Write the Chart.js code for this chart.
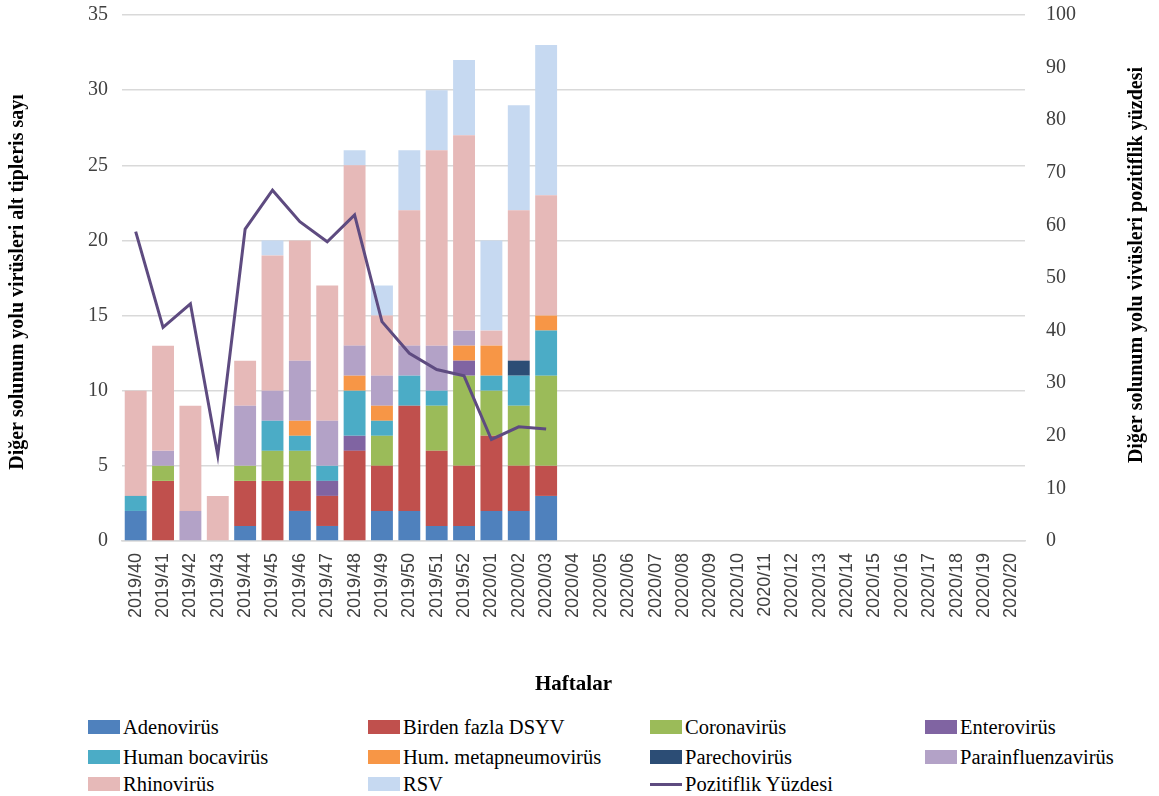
<!DOCTYPE html>
<html>
<head>
<meta charset="utf-8">
<script src="https://cdn.jsdelivr.net/npm/chart.js@4"></script>
<style>
  body { margin: 0; background: #fff; }
  #wrap { position: relative; width: 1159px; height: 796px; }
  #chartBox { position: absolute; left: 0; top: 0; width: 1159px; height: 705px; }
  .lg { position: absolute; font-family: "Liberation Serif", serif; font-size: 20.5px; color: #000; white-space: nowrap; line-height: 24px; }
  .lg .sw { display: inline-block; width: 32px; height: 14px; vertical-align: middle; margin-right: 3px; position: relative; top: -2px; }
  .lg .ln { display: inline-block; width: 32px; height: 3px; vertical-align: middle; margin-right: 3px; position: relative; top: -2px; }
</style>
</head>
<body>
<div id="wrap">
  <div id="chartBox"><canvas id="chart"></canvas></div>
  <div id="legend"></div>
</div>
<script>
const weeks = [
  '2019/40','2019/41','2019/42','2019/43','2019/44','2019/45','2019/46','2019/47','2019/48','2019/49',
  '2019/50','2019/51','2019/52','2020/01','2020/02','2020/03','2020/04','2020/05','2020/06','2020/07',
  '2020/08','2020/09','2020/10','2020/11','2020/12','2020/13','2020/14','2020/15','2020/16','2020/17',
  '2020/18','2020/19','2020/20'
];

// counts per week (only the first 16 weeks have data)
const adenovirus      = [2,0,0,0,1,0,2,1,0,2,2,1,1,2,2,3];
const birdenFazla     = [0,4,0,0,3,4,2,2,6,3,7,5,4,5,3,2];
const coronavirus     = [0,1,0,0,1,2,2,0,0,2,0,3,6,3,4,6];
const enterovirus     = [0,0,0,0,0,0,0,1,1,0,0,0,1,0,0,0];
const humanBocavirus  = [1,0,0,0,0,2,1,1,3,1,2,1,0,1,2,3];
const humMetapneumo   = [0,0,0,0,0,0,1,0,1,1,0,0,1,2,0,1];
const parechovirus    = [0,0,0,0,0,0,0,0,0,0,0,0,0,0,1,0];
const parainfluenza   = [0,1,2,0,4,2,4,3,2,2,2,3,1,0,0,0];
const rhinovirus      = [7,7,7,3,3,9,8,9,12,4,9,13,13,1,10,8];
const rsv             = [0,0,0,0,0,1,0,0,1,2,4,4,5,6,7,10];
const pozitiflik      = [58.8,40.6,45.1,16.3,59.3,66.7,60.7,56.9,62.0,41.7,35.7,32.6,31.4,19.3,21.7,21.3];

const seriesNames = ['Adenovirüs','Birden fazla DSYV','Coronavirüs','Enterovirüs','Human bocavirüs',
  'Hum. metapneumovirüs','Parechovirüs','Parainfluenzavirüs','Rhinovirüs','RSV'];
const seriesData = [adenovirus, birdenFazla, coronavirus, enterovirus, humanBocavirus,
  humMetapneumo, parechovirus, parainfluenza, rhinovirus, rsv];
const seriesColors = ['#4F81BD','#C0504D','#9BBB59','#8064A2','#4BACC6',
  '#F79646','#2C4D75','#B3A2C7','#E6B9B8','#C6D9F1'];
const lineName = 'Pozitiflik Yüzdesi';
const lineColor = '#5E4B80';

const leftTitle = 'Diğer solunum yolu virüsleri alt tipleris sayı';
const rightTitle = 'Diğer solunum yolu vivüsleri pozitiflik yüzdesi';
const xTitle = 'Haftalar';

const datasets = seriesNames.map((name, i) => ({
  type: 'bar',
  label: name,
  data: seriesData[i],
  backgroundColor: seriesColors[i],
  borderWidth: 0,
  barPercentage: 0.8,
  categoryPercentage: 1.0,
  stack: 's',
  yAxisID: 'y',
  order: 1
}));
datasets.push({
  type: 'line',
  label: lineName,
  data: pozitiflik,
  borderColor: lineColor,
  backgroundColor: lineColor,
  borderWidth: 3,
  pointRadius: 0,
  tension: 0,
  fill: false,
  yAxisID: 'y1',
  order: 0
});

// draw the three axis titles
const axisTitles = {
  id: 'axisTitles',
  afterDraw(chart) {
    const ctx = chart.ctx;
    const area = chart.chartArea;
    ctx.save();
    ctx.fillStyle = '#000';
    ctx.textAlign = 'center';
    ctx.textBaseline = 'middle';
    ctx.font = 'bold 20px "Liberation Serif"';
    ctx.save();
    ctx.translate(18, 282);
    ctx.rotate(-Math.PI / 2);
    ctx.fillText(leftTitle, 0, 0);
    ctx.restore();
    ctx.save();
    ctx.translate(1137, 265);
    ctx.rotate(-Math.PI / 2);
    ctx.fillText(rightTitle, 0, 0);
    ctx.restore();
    ctx.font = 'bold 21px "Liberation Serif"';
    ctx.fillText(xTitle, (area.left + area.right) / 2, 685);
    ctx.restore();
  }
};

// keep tick padding from pushing the plot area down
const noVPad = s => { s.paddingTop = 0; s.paddingBottom = 0; };

new Chart(document.getElementById('chart'), {
  data: { labels: weeks, datasets: datasets },
  plugins: [axisTitles],
  options: {
    responsive: true,
    maintainAspectRatio: false,
    animation: false,
    layout: { padding: { top: 15 } },
    plugins: { legend: { display: false }, tooltip: { enabled: false } },
    scales: {
      x: {
        stacked: true,
        grid: { display: false, drawTicks: false },
        border: { display: true, color: '#d9d9d9', width: 1.5 },
        ticks: {
          minRotation: 90, maxRotation: 90, autoSkip: false, padding: 12,
          color: '#404040',
          font: { family: 'Liberation Sans', size: 18 }
        },
        afterFit: s => { s.height = 705 - 541; }
      },
      y: {
        stacked: true,
        position: 'left',
        min: 0, max: 35,
        grid: { color: '#d9d9d9', lineWidth: 1.5, drawTicks: false },
        border: { display: false },
        ticks: {
          stepSize: 5, padding: 14, color: '#404040',
          font: { family: 'Liberation Serif', size: 20 }
        },
        afterFit: s => { s.width = 122; noVPad(s); }
      },
      y1: {
        position: 'right',
        min: 0, max: 100,
        grid: { display: false, drawTicks: false },
        border: { display: false },
        ticks: {
          stepSize: 10, padding: 21, color: '#404040',
          font: { family: 'Liberation Serif', size: 20 }
        },
        afterFit: s => { s.width = 1159 - 1025; noVPad(s); }
      }
    }
  }
});

// legend below the chart, 4 columns
const legendCols = [88, 368, 650, 925];
const legendRows = [715, 745, 772];
const legendEl = document.getElementById('legend');
const legendItems = seriesNames.map((n, i) => ({ name: n, color: seriesColors[i], line: false }));
legendItems.push({ name: lineName, color: lineColor, line: true });
legendItems.forEach((it, i) => {
  const d = document.createElement('div');
  d.className = 'lg';
  d.style.left = legendCols[i % 4] + 'px';
  d.style.top = legendRows[Math.floor(i / 4)] + 'px';
  const sw = document.createElement('span');
  sw.className = it.line ? 'ln' : 'sw';
  sw.style.background = it.color;
  d.appendChild(sw);
  d.appendChild(document.createTextNode(it.name));
  legendEl.appendChild(d);
});
</script>
</body>
</html>
